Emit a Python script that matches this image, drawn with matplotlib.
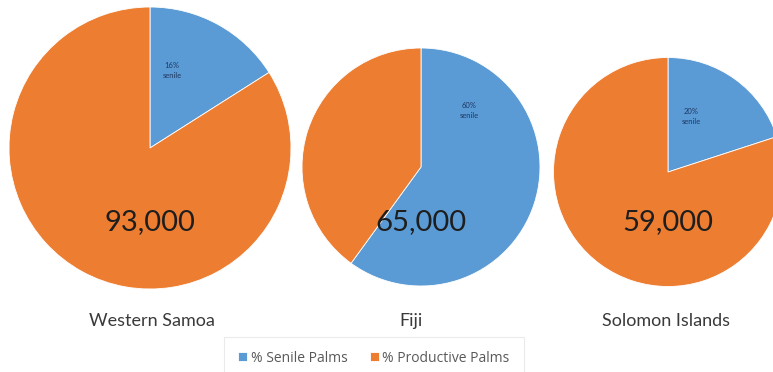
import matplotlib.pyplot as plt

# palm survey, share of senile palms per country
countries = ['Western Samoa', 'Fiji', 'Solomon Islands']
senile_pct = [16, 60, 20]
productive_pct = [84, 40, 80]
total_palms = ['93,000', '65,000', '59,000']
series = ['% Senile Palms', '% Productive Palms']
colors = ['#5B9BD5', '#ED7D31']

plt.rcParams['font.family'] = ['Lato', 'DejaVu Sans']

W, H = 773, 372
fig = plt.figure(figsize=(W/100, H/100), dpi=100)
ax = fig.add_axes([0, 0, 1, 1])
ax.set_xlim(0, W)
ax.set_ylim(0, H)
ax.set_aspect('equal')
ax.axis('off')

# pie centres/radii in pixel space (y measured from top)
centers = [(150, 148), (421, 167), (668, 172)]
radii = [141, 119, 114.5]
small_lbl = [(172, 70), (469, 111), (691, 116)]
name_x = [152, 411, 666]

wedges_all = None
for i in range(3):
    cx, cy = centers[i]
    w, _ = ax.pie([senile_pct[i], productive_pct[i]], colors=colors,
                  center=(cx, H - cy), radius=radii[i], startangle=90,
                  counterclock=False,
                  wedgeprops=dict(edgecolor='white', linewidth=0.6))
    if wedges_all is None:
        wedges_all = w
    ax.text(cx, H - 222, total_palms[i], ha='center', va='center',
            fontsize=21, color='#1e1e1e')
    lx, ly = small_lbl[i]
    ax.text(lx, H - ly, f'{senile_pct[i]}%\nsenile', ha='center', va='center',
            fontsize=5.5, color='#1F3864', linespacing=1.5)
    ax.text(name_x[i], H - 321, countries[i], ha='center', va='center',
            fontsize=13, color='#3a3a3a')

ax.set_xlim(0, W)
ax.set_ylim(0, H)

leg = fig.legend(wedges_all, series, loc='center', bbox_to_anchor=(374/W, 1 - 358/H),
                 ncol=2, frameon=True, fancybox=False,
                 prop=dict(family='Open Sans', size=10),
                 handlelength=0.65, handleheight=0.65, handletextpad=0.25,
                 columnspacing=1.6, borderpad=1.0, labelcolor='#595959')
leg.get_frame().set_edgecolor('#e6e6e6')
leg.get_frame().set_linewidth(0.8)

fig.savefig('out.png', dpi=100)
